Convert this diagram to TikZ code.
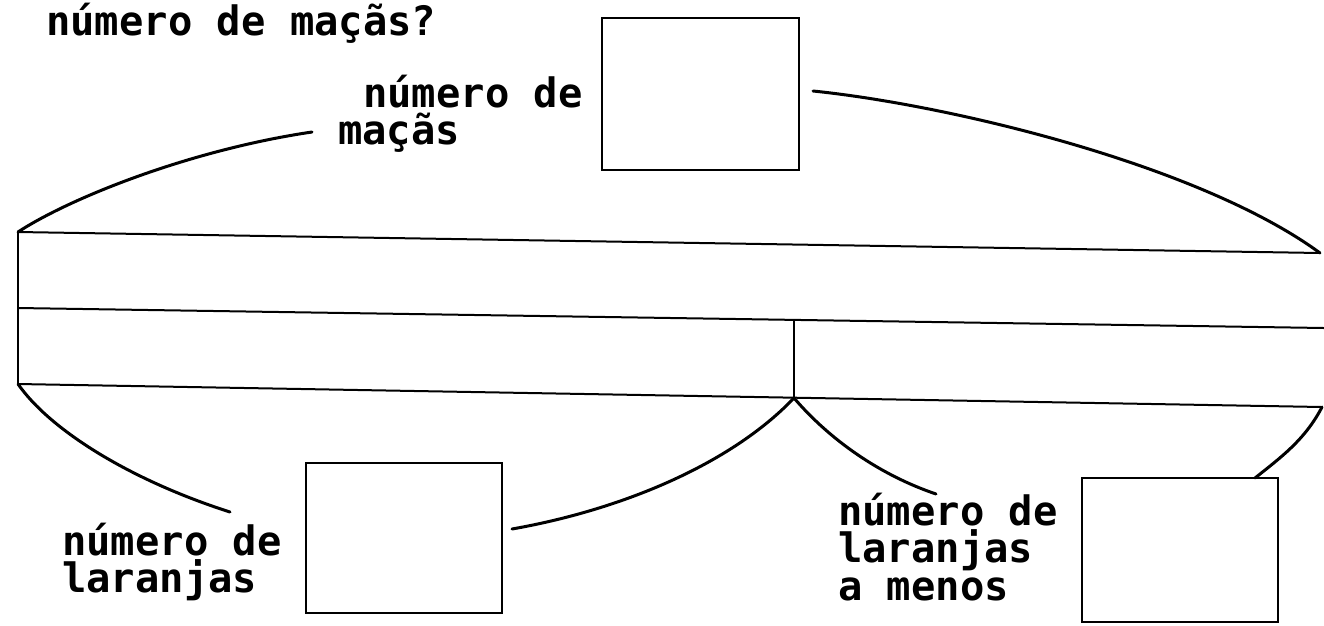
\documentclass[tikz,border=0pt]{standalone}
\usepackage{fontspec}
\newfontfamily\lblfont{DejaVu Sans Mono}
\begin{document}
\begin{tikzpicture}[x=1pt,y=-1pt,
  lbl/.style={anchor=base west,inner sep=0pt,font=\lblfont\bfseries\fontsize{40.5}{37}\selectfont},
  ansbox/.style={draw,line width=2pt,inner sep=0pt},
  barline/.style={line width=2pt},
  brace/.style={line width=3pt,line cap=round}]
\useasboundingbox (0,0) rectangle (1324,625);
% question
\node[lbl] (q) at (46,35) {número de maçãs?};
% bar corners
\coordinate (tl) at (18,232);
\coordinate (tr) at (1320,253);
\coordinate (ml) at (18,308);
\coordinate (mr) at (1324,328);
\coordinate (bl) at (18,384);
\coordinate (br) at (1322,407);
\coordinate (dtop) at (794,320);
\coordinate (dbot) at (794,398);
\draw[barline] (tl) -- (tr);
\draw[barline] (ml) -- (mr);
\draw[barline] (bl) -- (br);
\draw[barline] (tl) -- (bl);
\draw[barline] (dtop) -- (dbot);
% boxes
\node[ansbox,minimum width=197pt,minimum height=152pt] (boxT) at (700.5,94) {};
\node[ansbox,minimum width=196pt,minimum height=150pt] (boxL) at (404,538) {};
\node[ansbox,minimum width=196pt,minimum height=144pt] (boxR) at (1180,550) {};
% labels
\node[lbl] (tA1) at (363,107) {número de};
\node[lbl] (tA2) at (338,144) {maçãs};
\node[lbl] (tB1) at (62,555) {número de};
\node[lbl] (tB2) at (62,592) {laranjas};
\node[lbl] (tC1) at (838,525) {número de};
\node[lbl] (tC2) at (838,562) {laranjas};
\node[lbl] (tC3) at (838,600) {a menos};
% connector ends
\coordinate (cA) at (312,132);
\coordinate (cB) at (813,91);
\coordinate (cC) at (230,512);
\coordinate (cD) at (512,529);
\coordinate (cE) at (936,494);
\coordinate (cF) at (1255,478);
% braces
\draw[brace] (tl) .. controls (70,198) and (190,150) .. (cA);
\draw[brace] (cB) .. controls (950,105) and (1200,165) .. (tr);
\draw[brace] (bl) .. controls (50,430) and (130,480) .. (cC);
\draw[brace] (cD) .. controls (620,510) and (730,465) .. (dbot);
\draw[brace] (dbot) .. controls (830,440) and (880,475) .. (cE);
\draw[brace] (br) .. controls (1305,440) and (1280,458) .. (cF);
\end{tikzpicture}
\end{document}
